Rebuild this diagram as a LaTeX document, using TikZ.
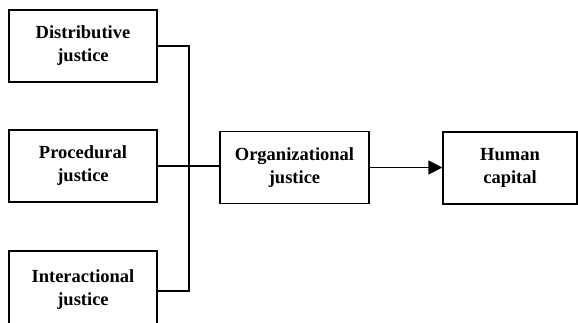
\documentclass[tikz,border=0pt]{standalone}
\usepackage{fontspec}
\setmainfont{Liberation Serif}
\usetikzlibrary{arrows.meta}
\begin{document}
\begin{tikzpicture}[x=1pt,y=-1pt,
  box/.style={draw,line width=1.3pt,minimum height=72pt,inner sep=0pt,align=center,
    font=\fontsize{18.5pt}{23pt}\selectfont\bfseries},
  conn/.style={line width=1.3pt}]
\useasboundingbox (0,0) rectangle (578,322);
\node[box,minimum width=148pt] (d) at (83,46) {Distributive\\justice};
\node[box,minimum width=148pt] (p) at (83,166) {Procedural\\justice};
\node[box,minimum width=148pt,minimum height=78pt] (i) at (83,290) {Interactional\\justice};
\node[box,minimum width=149pt] (o) at (294.5,167.5) {Organizational\\justice};
\node[box,minimum width=134pt] (h) at (510,168) {Human\\capital};
\coordinate (jx) at (189,166);
\draw[conn] (d.east) -- (d.east -| jx) |- ([yshift=-1pt]i.east);
\draw[conn] (p.east) -- (o.west |- p.east);
\draw[conn,-{Triangle[length=14pt,width=14pt]}] (o.east) -- (h.west |- o.east);
\end{tikzpicture}
\end{document}
